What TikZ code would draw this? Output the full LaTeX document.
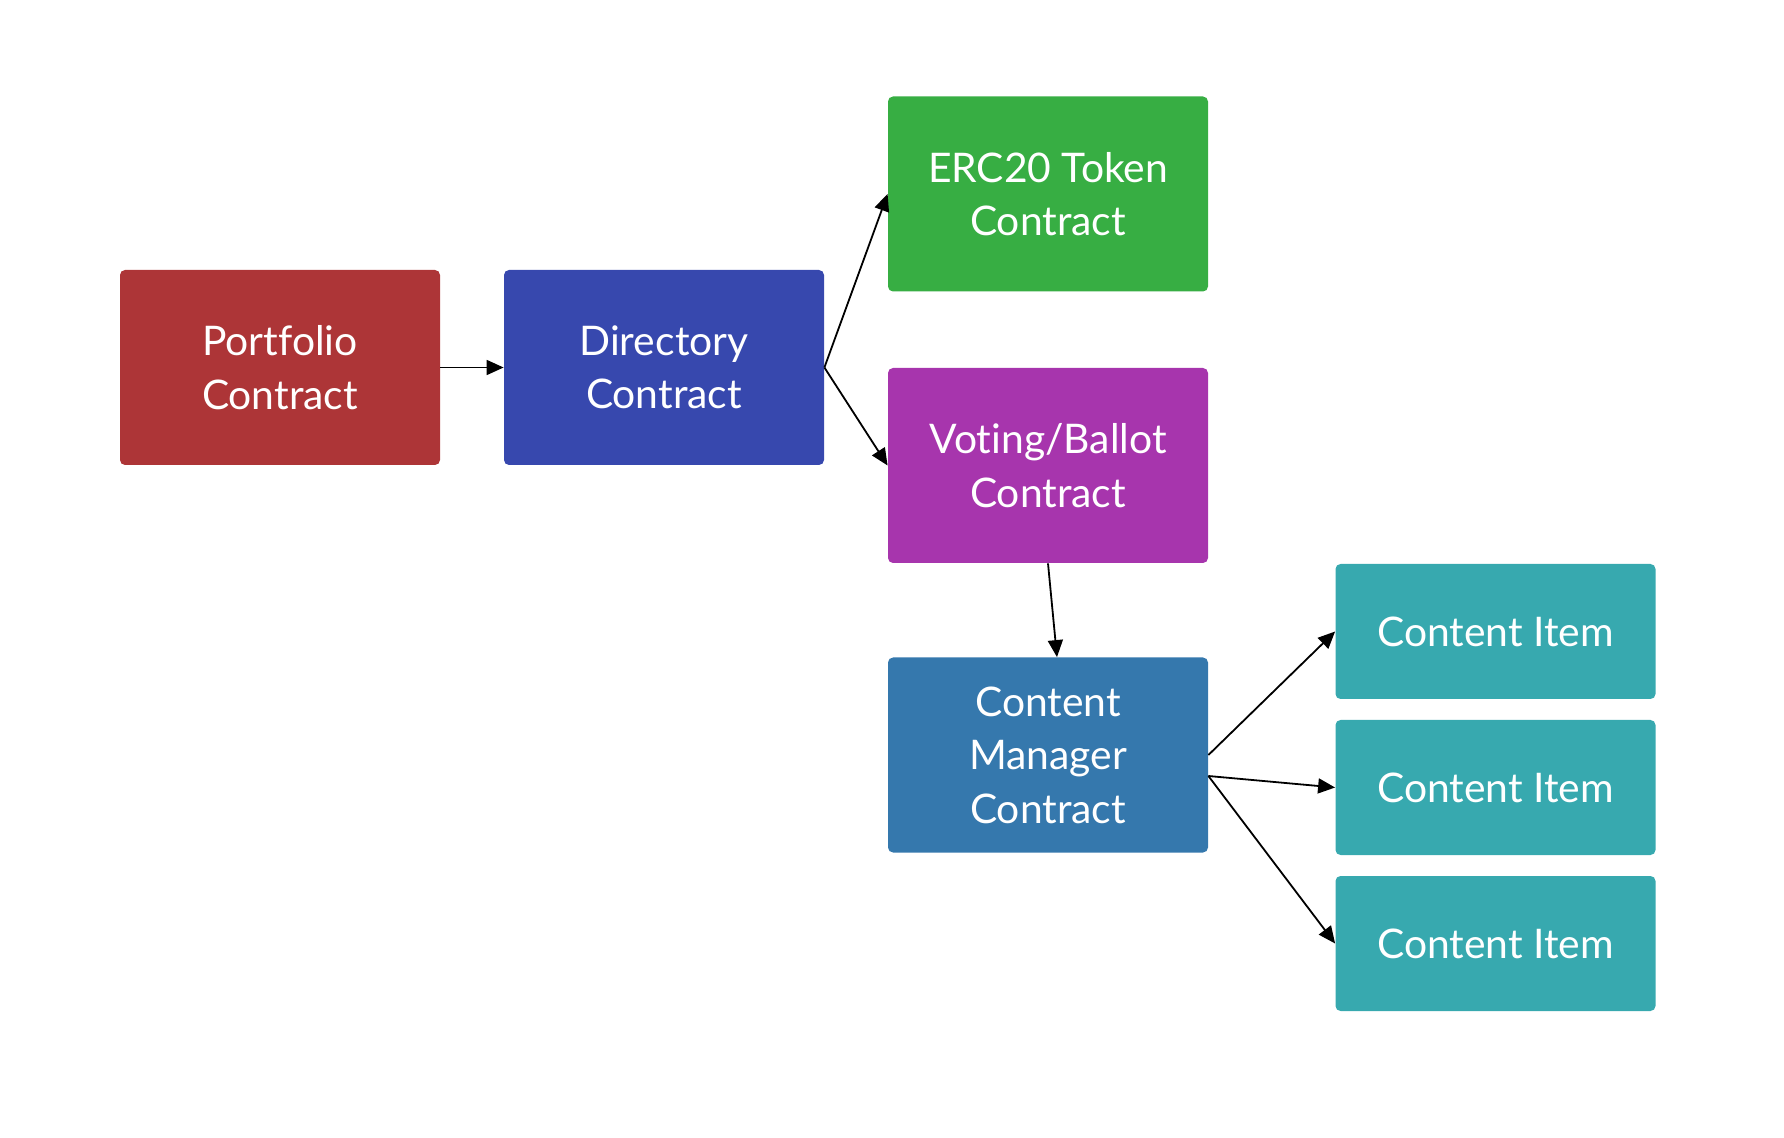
\documentclass[tikz,border=0pt]{standalone}
\usepackage{fontspec}
\setmainfont{Lato}[Ligatures=NoCommon]
\usetikzlibrary{arrows.meta}
\definecolor{portred}{HTML}{AD3537}
\definecolor{dirblue}{HTML}{3748AE}
\definecolor{tokgreen}{HTML}{37AE43}
\definecolor{votepurple}{HTML}{A735AD}
\definecolor{cmblue}{HTML}{3578AD}
\definecolor{itemteal}{HTML}{37A9AF}
\begin{document}
\begin{tikzpicture}[x=0.5pt,y=-0.5pt,font=\fontsize{20.4}{26.7}\selectfont]
    \tikzstyle{box}=[rectangle,rounded corners=2.5pt,text=white,align=center,minimum width=160pt,minimum height=97.5pt,inner sep=0pt]
    \tikzstyle{item}=[box,minimum height=67.5pt,fill=itemteal]
    \tikzstyle{link}=[-{Triangle[length=8.5pt,width=7.5pt]},line width=0.9pt]
    \useasboundingbox (0,0) rectangle (1784,1138);
    \node [box,fill=portred] (port) at (280,367.5) {Portfolio\\Contract};
    \node [box,fill=dirblue] (dir) at (664,367.5) {Directory\\Contract};
    \node [box,fill=tokgreen] (token) at (1048,194) {ERC20 Token\\Contract};
    \node [box,fill=votepurple] (vote) at (1048,465.5) {Voting/Ballot\\Contract};
    \node [box,fill=cmblue] (cm) at (1048,755) {Content\\Manager\\Contract};
    \node [item] (item1) at (1495.5,631.5) {Content Item};
    \node [item] (item2) at (1495.5,787.5) {Content Item};
    \node [item] (item3) at (1495.5,943.5) {Content Item};
    \draw [link] (port.east) -- (dir.west);
    \draw [link] (dir.east) -- (token.west);
    \draw [link] (dir.east) -- (vote.west);
    \draw [link] (vote.south) -- ([xshift=4.5pt]cm.north);
    \draw [link] (cm.east) -- (item1.west);
    \draw [link] ([yshift=-10.5pt]cm.east) -- (item2.west);
    \draw [link] ([yshift=-10.5pt]cm.east) -- (item3.west);
  \end{tikzpicture}
\end{document}
